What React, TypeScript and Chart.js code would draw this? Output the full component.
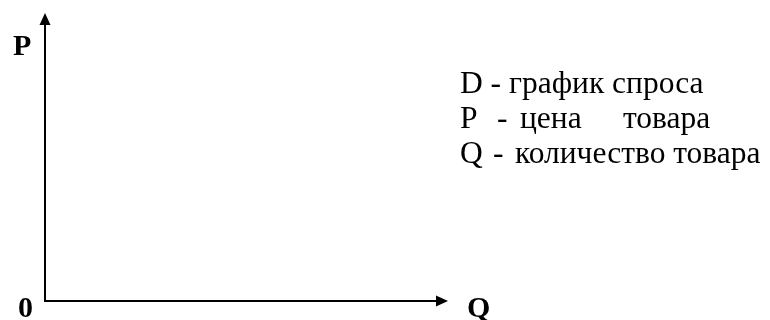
import React, { useEffect, useRef } from "react";
import { Chart, registerables } from "chart.js";

Chart.register(...registerables);

// Axis extents (abstract units)
const xRange = [0, 10];
const yRange = [0, 10];
// Axis labels
const yAxisLabel = "P";
const xAxisLabel = "Q";
const originLabel = "0";
// Legend lines (key, text parts)
const legendKeys = ["D", "P", "Q"];
const legendTexts = [["график спроса"], ["цена", "товара"], ["количество товара"]];

const SERIF = '"Times New Roman", "Liberation Serif", "DejaVu Serif", serif';

const axesPlugin = {
  id: "econAxes",
  afterDraw(chart: any) {
    const ctx = chart.ctx;
    const xs = chart.scales.x;
    const ys = chart.scales.y;
    const x0 = xs.getPixelForValue(xRange[0]);
    const x1 = xs.getPixelForValue(xRange[1]);
    const y0 = ys.getPixelForValue(yRange[0]);
    const y1 = ys.getPixelForValue(yRange[1]);
    ctx.save();
    ctx.strokeStyle = "#000";
    ctx.fillStyle = "#000";
    ctx.lineWidth = 2;
    ctx.lineCap = "butt";
    // Y axis
    ctx.beginPath();
    ctx.moveTo(x0, y0 + 1);
    ctx.lineTo(x0, y1 + 11);
    ctx.stroke();
    ctx.beginPath();
    ctx.moveTo(x0, y1);
    ctx.lineTo(x0 - 5.5, y1 + 12);
    ctx.lineTo(x0 + 5.5, y1 + 12);
    ctx.closePath();
    ctx.fill();
    // X axis
    ctx.beginPath();
    ctx.moveTo(x0 - 1, y0);
    ctx.lineTo(x1 - 11, y0);
    ctx.stroke();
    ctx.beginPath();
    ctx.moveTo(x1, y0);
    ctx.lineTo(x1 - 12, y0 - 5.5);
    ctx.lineTo(x1 - 12, y0 + 5.5);
    ctx.closePath();
    ctx.fill();

    // Axis labels
    ctx.textBaseline = "alphabetic";
    ctx.textAlign = "left";
    ctx.font = `bold 30px ${SERIF}`;
    ctx.fillText(yAxisLabel, x0 - 32, y1 + 42);
    ctx.fillText(originLabel, x0 - 27, y0 + 16);
    ctx.fillText(xAxisLabel, x1 + 19, y0 + 16);

    // Legend text
    ctx.font = `31.5px ${SERIF}`;
    const lx = 460;
    const baselines = [93, 128, 163];
    // line 1
    ctx.fillText(legendKeys[0] + " - " + legendTexts[0][0], lx, baselines[0]);
    // line 2
    ctx.fillText(legendKeys[1], lx, baselines[1]);
    ctx.fillText("-", lx + 37, baselines[1]);
    ctx.fillText(legendTexts[1][0], lx + 60, baselines[1]);
    ctx.fillText(legendTexts[1][1], lx + 163, baselines[1]);
    // line 3
    ctx.fillText(legendKeys[2], lx, baselines[2]);
    ctx.fillText("-", lx + 33, baselines[2]);
    ctx.fillText(legendTexts[2][0], lx + 55, baselines[2]);
    ctx.restore();
  },
};

export default function App() {
  const ref = useRef<HTMLCanvasElement | null>(null);
  useEffect(() => {
    if (!ref.current) return;
    const chart = new Chart(ref.current, {
      type: "scatter",
      data: { datasets: [{ data: [], pointRadius: 0 }] },
      options: {
        animation: false,
        responsive: false,
        maintainAspectRatio: false,
        events: [],
        layout: { padding: { left: 45, top: 13, right: 322, bottom: 19 } },
        plugins: { legend: { display: false }, tooltip: { enabled: false } },
        scales: {
          x: { type: "linear", min: xRange[0], max: xRange[1], display: false },
          y: { type: "linear", min: yRange[0], max: yRange[1], display: false },
        },
      },
      plugins: [axesPlugin],
    });
    return () => chart.destroy();
  }, []);
  return (
    <div style={{ position: "fixed", left: 0, top: 0, width: 770, height: 320, background: "#fff" }}>
      <canvas ref={ref} width={770} height={320} style={{ width: 770, height: 320, display: "block" }} />
    </div>
  );
}
